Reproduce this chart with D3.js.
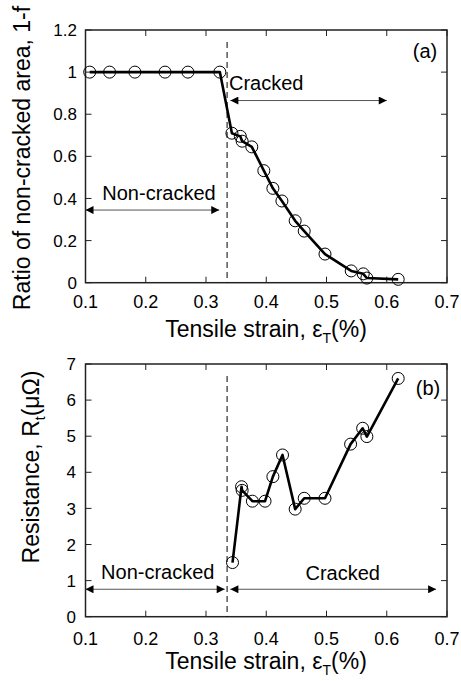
<!DOCTYPE html>
<html><head><meta charset="utf-8">
<script src="https://cdn.jsdelivr.net/npm/d3@7"></script>
<style>
body{margin:0;background:#fff;}
svg{display:block;font-family:"Liberation Sans",Arial,sans-serif;}
</style></head>
<body>
<svg id="c" width="461" height="681"></svg>
<script>
// ---- data ----
const strainA = [0.107, 0.14, 0.182, 0.232, 0.27, 0.323, 0.343, 0.357, 0.36, 0.376, 0.396, 0.411, 0.426, 0.448, 0.463, 0.4975, 0.541, 0.561, 0.567, 0.619];
const ratioA  = [1, 1, 1, 1, 1, 1, 0.71, 0.695, 0.672, 0.645, 0.532, 0.448, 0.388, 0.294, 0.245, 0.136, 0.056, 0.042, 0.022, 0.016];
const strainB = [0.344, 0.359, 0.36, 0.377, 0.398, 0.411, 0.427, 0.448, 0.463, 0.4975, 0.54, 0.56, 0.567, 0.619];
const resB    = [1.5, 3.6, 3.5, 3.2, 3.2, 3.88, 4.48, 2.98, 3.28, 3.28, 4.78, 5.22, 4.99, 6.6];
const xTicks  = [0.1, 0.2, 0.3, 0.4, 0.5, 0.6, 0.7];
const yTicksA = [0, 0.2, 0.4, 0.6, 0.8, 1, 1.2];
const yTicksB = [0, 1, 2, 3, 4, 5, 6, 7];
const crackOnset = 0.335;

const svg = d3.select("#c");
const defs = svg.append("defs");
defs.append("marker").attr("id","ah").attr("viewBox","0 0 10 10").attr("refX",10).attr("refY",5)
  .attr("markerWidth",12).attr("markerHeight",8).attr("markerUnits","userSpaceOnUse")
  .attr("orient","auto-start-reverse")
  .append("path").attr("d","M0,0L10,5L0,10Z").attr("fill","#000");

function panel(cfg){
  const x = d3.scaleLinear([0.1,0.7],[85.5,447]);
  const y = d3.scaleLinear(cfg.ydom,[cfg.bottom,cfg.top]);
  const g = svg.append("g");
  const tl = 6;
  xTicks.forEach(t=>{
    g.append("line").attr("x1",x(t)).attr("x2",x(t)).attr("y1",cfg.bottom).attr("y2",cfg.bottom-tl).attr("stroke","#222");
    g.append("line").attr("x1",x(t)).attr("x2",x(t)).attr("y1",cfg.top).attr("y2",cfg.top+tl).attr("stroke","#222");
    g.append("text").attr("x",x(t)).attr("y",cfg.xlabY).attr("text-anchor","middle").attr("font-size",18).text(d3.format(".1f")(t));
  });
  cfg.yticks.forEach(t=>{
    g.append("line").attr("x1",85.5).attr("x2",85.5+tl).attr("y1",y(t)).attr("y2",y(t)).attr("stroke","#222");
    g.append("line").attr("x1",447).attr("x2",447-tl).attr("y1",y(t)).attr("y2",y(t)).attr("stroke","#222");
    g.append("text").attr("x",cfg.ylabX).attr("y",y(t)).attr("dy","0.36em").attr("text-anchor","end").attr("font-size",17).text(cfg.fmt(t));
  });
  g.append("rect").attr("x",85.5).attr("y",cfg.top).attr("width",447-85.5).attr("height",cfg.bottom-cfg.top)
    .attr("fill","none").attr("stroke","#222").attr("stroke-width",1.5);
  g.append("line").attr("x1",x(crackOnset)).attr("x2",x(crackOnset)).attr("y1",cfg.top+12).attr("y2",cfg.bottom)
    .attr("stroke","#000").attr("stroke-dasharray","6,4");
  const pts = cfg.xs.map((v,i)=>[v,cfg.ys[i]]);
  g.append("path").attr("d",d3.line().x(d=>x(d[0])).y(d=>y(d[1]))(pts))
    .attr("fill","none").attr("stroke","#000").attr("stroke-width",2.6).attr("stroke-linejoin","round");
  g.selectAll("circle.p").data(pts).join("circle").attr("cx",d=>x(d[0])).attr("cy",d=>y(d[1])).attr("r",6)
    .attr("fill","none").attr("stroke","#000").attr("stroke-width",1);
  const xt = g.append("text").attr("x",266).attr("y",cfg.xtitleY).attr("text-anchor","middle").attr("font-size",23);
  xt.append("tspan").text("Tensile strain, ε");
  xt.append("tspan").attr("font-size",14).attr("dy",6).text("T");
  xt.append("tspan").attr("dy",-6).text("(%)");
  cfg.notes.forEach(n=>{
    g.append("text").attr("x",x(n.tx)).attr("y",y(n.ty)).attr("text-anchor","middle").attr("font-size",20).text(n.label);
    g.append("line").attr("x1",x(n.x0)).attr("x2",x(n.x1)).attr("y1",y(n.ay)).attr("y2",y(n.ay))
      .attr("stroke","#555").attr("stroke-width",1)
      .attr("marker-start","url(#ah)").attr("marker-end","url(#ah)");
  });
  g.append("text").attr("x",cfg.tagX).attr("y",cfg.tagY).attr("text-anchor","middle").attr("font-size",20).text(cfg.tag);
  return {x,y,g};
}

panel({ydom:[0,1.2], top:30, bottom:282.7, yticks:yTicksA, fmt:d=>d===0||d===1?String(d):d3.format(".1f")(d),
  xlabY:308, ylabX:77, xtitleY:337, xs:strainA, ys:ratioA, tag:"(a)", tagX:425, tagY:58,
  notes:[{label:"Cracked", tx:0.4, ty:0.915, x0:0.3405, x1:0.6, ay:0.865},
         {label:"Non-cracked", tx:0.222, ty:0.393, x0:0.1, x1:0.322, ay:0.345}]});
panel({ydom:[0,7], top:364, bottom:616.7, yticks:yTicksB, fmt:d=>String(d),
  xlabY:645, ylabX:76, xtitleY:669, xs:strainB, ys:resB, tag:"(b)", tagX:428, tagY:395,
  notes:[{label:"Non-cracked", tx:0.22, ty:1.05, x0:0.1, x1:0.331, ay:0.76},
         {label:"Cracked", tx:0.527, ty:1.03, x0:0.3405, x1:0.682, ay:0.76}]});

svg.append("text").attr("transform","translate(30,158) rotate(-90)").attr("text-anchor","middle").attr("font-size",23)
  .text("Ratio of non-cracked area, 1-f");
const yt = svg.append("text").attr("transform","translate(39,467) rotate(-90)").attr("text-anchor","middle").attr("font-size",23);
yt.append("tspan").text("Resistance, R");
yt.append("tspan").attr("font-size",14).attr("dy",6).text("t");
yt.append("tspan").attr("dy",-6).text("(μΩ)");
</script>
</body></html>
